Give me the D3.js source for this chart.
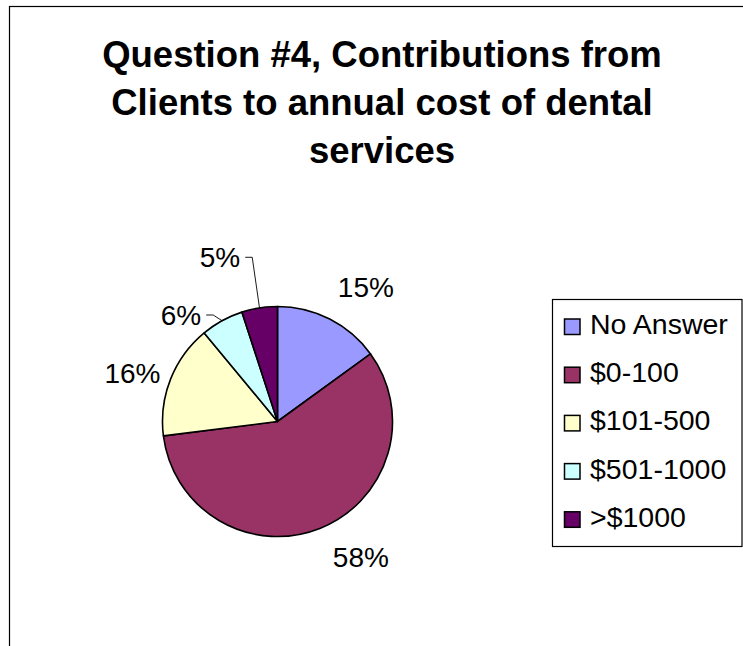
<!DOCTYPE html>
<html>
<head>
<meta charset="utf-8">
<script src="https://cdn.jsdelivr.net/npm/d3@7"></script>
<style>
  html, body { margin: 0; padding: 0; background: #fff; }
  svg { display: block; font-family: "Liberation Sans", Arial, sans-serif; }
</style>
</head>
<body>
<svg id="chart" width="743" height="646"></svg>
<script>
// Survey answers: share of clients by annual contribution bracket (percent)
const categories = ["No Answer", "$0-100", "$101-500", "$501-1000", ">$1000"];
const shares = [15, 58, 16, 6, 5];
const colours = ["#9999FF", "#993366", "#FFFFCC", "#CCFFFF", "#660066"];
const titleLines = [
  "Question #4, Contributions from",
  "Clients to annual cost of dental",
  "services"
];

const svg = d3.select("#chart");
const W = 743, H = 646;

// chart frame (runs off the right and bottom of the page)
svg.append("rect")
  .attr("x", 9.5).attr("y", 6.5)
  .attr("width", W + 20).attr("height", H + 20)
  .attr("fill", "#fff").attr("stroke", "#000").attr("stroke-width", 1.2);

// title
svg.append("g")
  .selectAll("text")
  .data(titleLines)
  .join("text")
  .attr("x", 382)
  .attr("y", (d, i) => 66.7 + i * 48.3)
  .attr("text-anchor", "middle")
  .attr("font-size", 36.5)
  .attr("font-weight", "bold")
  .attr("fill", "#000")
  .text(d => d);

// pie
const cx = 277.5, cy = 421.5, r = 115;
const data = categories.map((c, i) => ({ name: c, value: shares[i] }));
const pie = d3.pie().value(d => d.value).sort(null);
const arcs = pie(data);
const arc = d3.arc().innerRadius(0).outerRadius(r);
const colour = d3.scaleOrdinal().domain(categories).range(colours);

const g = svg.append("g").attr("transform", `translate(${cx},${cy})`);
g.selectAll("path")
  .data(arcs)
  .join("path")
  .attr("d", arc)
  .attr("fill", d => colour(d.data.name))
  .attr("stroke", "#000")
  .attr("stroke-width", 1.6)
  .attr("stroke-linejoin", "round");

// percentage labels, placed around the pie (angle in degrees clockwise from 12 o'clock,
// distance as a multiple of the radius); the two thin slices get leader lines
const labelPlacement = [
  { angle: 33.3, dist: 1.40, leader: false },
  { angle: 148.4, dist: 1.383, leader: false },
  { angle: 288.5, dist: 1.33, leader: false },
  { angle: 317.8, dist: 1.25, leader: true },
  { angle: 340.7, dist: 1.513, leader: true }
];
const labelSize = 28;
const capMid = labelSize * 0.716 / 2;

arcs.forEach((a, i) => {
  const p = labelPlacement[i];
  const t = p.angle * Math.PI / 180;
  const lx = Math.sin(t) * p.dist * r;
  const ly = -Math.cos(t) * p.dist * r;
  const txt = g.append("text")
    .attr("x", lx)
    .attr("y", ly + capMid)
    .attr("text-anchor", "middle")
    .attr("font-size", labelSize)
    .attr("fill", "#000")
    .text(Math.round(a.data.value) + "%");
  if (p.leader) {
    const box = txt.node().getBBox();
    const mid = (a.startAngle + a.endAngle) / 2;
    const ex = Math.sin(mid) * r, ey = -Math.cos(mid) * r;
    const sx = box.x + box.width + 5;
    g.append("path")
      .attr("d", `M${sx},${ly} L${sx + 7},${ly} L${ex},${ey}`)
      .attr("fill", "none")
      .attr("stroke", "#000")
      .attr("stroke-width", 0.9);
  }
});

// legend
const lg = svg.append("g");
lg.append("rect")
  .attr("x", 552.5).attr("y", 299.5)
  .attr("width", 189.5).attr("height", 247)
  .attr("fill", "#fff").attr("stroke", "#000").attr("stroke-width", 1.2);

const items = lg.selectAll("g.item")
  .data(categories)
  .join("g")
  .attr("class", "item")
  .attr("transform", (d, i) => `translate(0,${334 + i * 48.2})`);
items.append("rect")
  .attr("x", 564.5).attr("y", -15)
  .attr("width", 15.5).attr("height", 15.5)
  .attr("fill", d => colour(d))
  .attr("stroke", "#000").attr("stroke-width", 1.5);
items.append("text")
  .attr("x", 590).attr("y", 0)
  .attr("font-size", 28.5)
  .attr("fill", "#000")
  .text(d => d);
</script>
</body>
</html>
